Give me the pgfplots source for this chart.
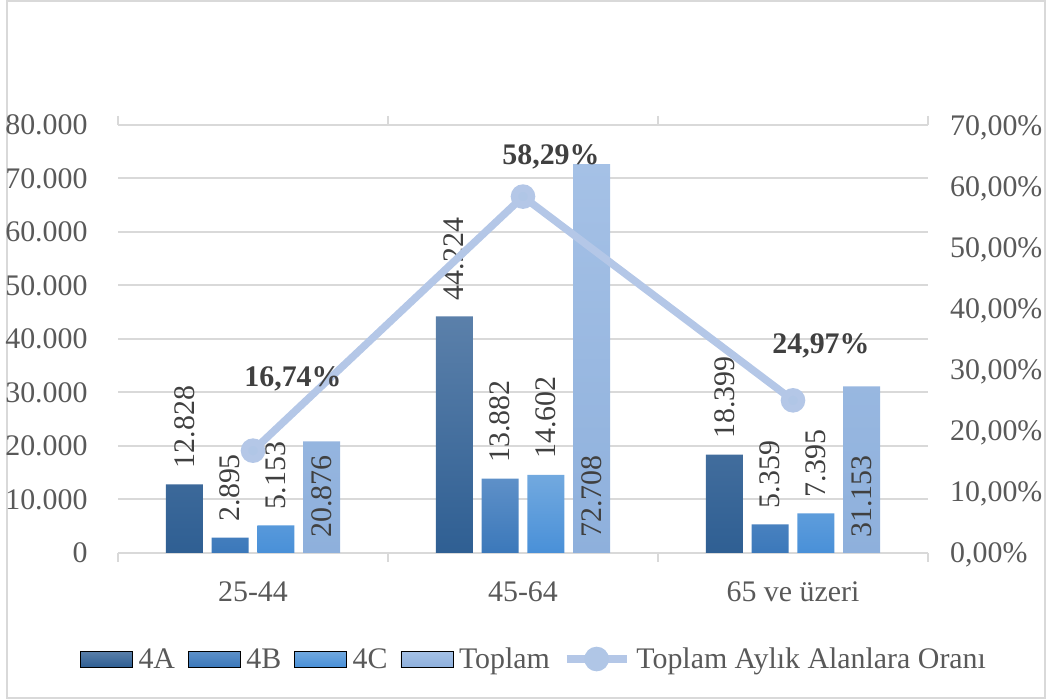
\documentclass[border=0pt]{standalone}
\usepackage{pgfplots}
\usepackage{pgfplotstable}
\pgfplotsset{compat=1.18}
\usepackage{fontspec}
\setmainfont{Liberation Serif}

\definecolor{gridgray}{HTML}{D9D9D9}
\definecolor{framegray}{HTML}{D9D9D9}
\definecolor{labelgray}{HTML}{595959}
\definecolor{valgray}{HTML}{404040}
\definecolor{aTop}{HTML}{5B80AA}\definecolor{aBot}{HTML}{2F5F93}
\definecolor{bTop}{HTML}{5E90C8}\definecolor{bBot}{HTML}{3B78BA}
\definecolor{cTop}{HTML}{72A9DF}\definecolor{cBot}{HTML}{4990D8}
\definecolor{tTop}{HTML}{A5C1E6}\definecolor{tBot}{HTML}{8EB0DC}
\definecolor{lineblue}{HTML}{B4C7E7}
\definecolor{markblue}{HTML}{B0C6E6}

\newcommand{\ticksize}{\fontsize{30}{36}\selectfont}
\newcommand{\valsize}{\fontsize{30}{36}\selectfont}
\newcommand{\lgap}{\hspace*{6bp}}

% counts by age group: x position, 4A, 4B, 4C, total
\pgfplotstableread{
x a b c t
0 12828 2895 5153 20876
1 44224 13882 14602 72708
2 18399 5359 7395 31153
}\counts

% share of all monthly recipients (%), with label offsets in bp
\pgfplotstableread{
x y dx dy
0 16.74 40 64.5
1 58.29 28 32.5
2 24.97 28 46.5
}\share

\pgfplotsset{
  frame/.style={
    scale only axis, width=810bp, height=428bp,
    at={(118bp,146bp)}, anchor=south west,
    xmin=-0.5, xmax=2.5, enlargelimits=false,
  },
  /pgf/number format/assume math mode=true,
}

\begin{document}
\begin{tikzpicture}
\useasboundingbox (0,0) rectangle (1047bp,699bp);
\draw[framegray, line width=2bp] (7bp,1bp) rectangle (1045bp,698bp);

\begin{axis}[frame,
  ymin=0, ymax=80000, ytick={0,10000,...,80000},
  scaled y ticks=false,
  /pgf/number format/.cd, fixed, precision=0, 1000 sep={.}, /pgfplots/.cd,
  separate axis lines,
  x axis line style={draw=gridgray, line width=2bp},
  y axis line style={draw=none},
  ymajorgrids, grid style={gridgray, line width=2bp},
  ytick style={draw=none},
  xtick={0,1,2}, xticklabels={25-44,45-64,65 ve üzeri},
  minor xtick={-0.5,0.5,1.5,2.5},
  major x tick style={draw=none},
  minor x tick style={draw=gridgray, line width=2bp},
  minor tick length=9bp, tick align=outside, xtick pos=both,
  xticklabel pos=bottom,
  ticklabel style={font=\ticksize, text=labelgray},
  yticklabel style={anchor=east, inner sep=0pt, xshift=-26bp},
  xticklabel style={anchor=base, inner sep=0pt, yshift=-44bp},
  ybar, bar width=37bp,
  nodes near coords,
  every node near coord/.append style={rotate=90, anchor=west,
    inner xsep=16bp, inner ysep=0pt, font=\valsize, text=valgray},
]
\addplot[draw=none, top color=aTop, bottom color=aBot, bar shift=-68.7bp] table[x=x, y=a] {\counts};
\addplot[draw=none, top color=bTop, bottom color=bBot, bar shift=-22.9bp] table[x=x, y=b] {\counts};
\addplot[draw=none, top color=cTop, bottom color=cBot, bar shift=22.9bp] table[x=x, y=c] {\counts};
\addplot[draw=none, top color=tTop, bottom color=tBot, bar shift=68.7bp,
  nodes near coords={}] table[x=x, y=t] {\counts};
% totals are labelled at the foot of their bars
\addplot[draw=none, fill=none, bar shift=68.7bp, point meta=\thisrow{t},
  every node near coord/.append style={inner xsep=15bp}]
  table[x=x, y expr=0] {\counts};
\end{axis}

\begin{axis}[frame,
  ymin=0, ymax=70, ytick={0,10,...,70},
  hide x axis,
  axis y line*=right,
  y axis line style={draw=none},
  ytick style={draw=none},
  yticklabel={\pgfmathprintnumber[fixed,zerofill,precision=2,use comma]{\tick}\%},
  yticklabel style={font=\ticksize, text=labelgray, anchor=base west,
    inner sep=0pt, xshift=22bp, yshift=-10bp},
  legend columns=5,
  legend style={at={(-0.047,-0.2477)}, anchor=west, draw=none, fill=none,
    inner sep=0pt, font=\ticksize, text=labelgray,
    nodes={inner sep=0pt},
    /tikz/every even column/.append style={column sep=13bp}},
  legend cell align=left,
]
\addlegendimage{legend image code/.code={\path[top color=aTop,bottom color=aBot] (0bp,-8bp) rectangle (52bp,8bp);}}
\addlegendentry{\lgap 4A}
\addlegendimage{legend image code/.code={\path[top color=bTop,bottom color=bBot] (0bp,-8bp) rectangle (52bp,8bp);}}
\addlegendentry{\lgap 4B}
\addlegendimage{legend image code/.code={\path[top color=cTop,bottom color=cBot] (0bp,-8bp) rectangle (52bp,8bp);}}
\addlegendentry{\lgap 4C}
\addlegendimage{legend image code/.code={\path[top color=tTop,bottom color=tBot] (0bp,-8bp) rectangle (52bp,8bp);}}
\addlegendentry{\lgap Toplam}
\addplot[lineblue, line width=7.5bp, mark=*, mark size=8.5bp,
  mark options={draw=none, fill=markblue},
  point meta=y,
  visualization depends on={\thisrow{dx}\as\ldx},
  visualization depends on={\thisrow{dy}\as\ldy},
  nodes near coords={\pgfmathprintnumber[fixed,zerofill,precision=2,use comma]{\pgfplotspointmeta}\%},
  every node near coord/.append style={anchor=base, xshift=\ldx bp, yshift=\ldy bp,
    font=\ticksize\bfseries, text=valgray, inner sep=0pt},
  legend image code/.code={\draw[lineblue, line width=7.5bp] (0bp,0bp) -- (60bp,0bp);
    \fill[markblue] (30bp,0bp) circle (8.5bp);},
] table[x=x, y=y] {\share};
\addlegendentry{\lgap Toplam Aylık Alanlara Oranı}
\end{axis}
\end{tikzpicture}
\end{document}
